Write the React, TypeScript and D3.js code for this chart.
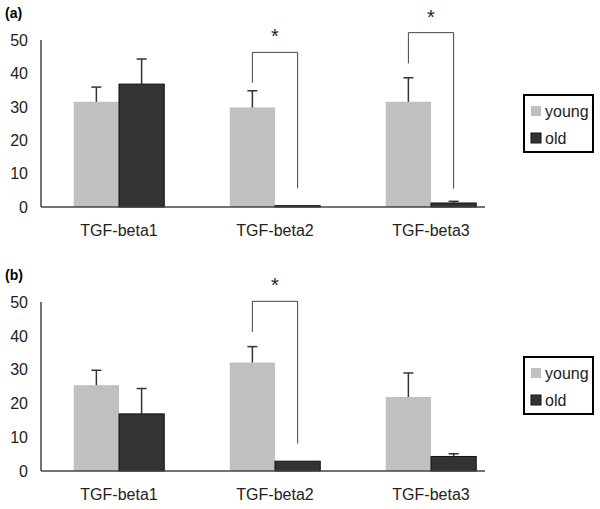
import * as d3 from "d3";

const categories = ["TGF-beta1", "TGF-beta2", "TGF-beta3"];
const series = ["young", "old"];
const yTicks = [0, 10, 20, 30, 40, 50];

// panel (a)
const youngA = [31.5, 29.8, 31.5];
const youngErrA = [4.4, 5.0, 7.2];
const oldA = [36.8, 0.4, 1.2];
const oldErrA = [7.5, 0, 0.5];
const sigA = [
  { category: "TGF-beta2", top: 46.3, left: 37.2, right: 5.6 },
  { category: "TGF-beta3", top: 52.2, left: 43.0, right: 5.5 },
];

// panel (b)
const youngB = [25.4, 32.1, 21.9];
const youngErrB = [4.4, 4.7, 7.1];
const oldB = [16.9, 2.9, 4.3];
const oldErrB = [7.5, 0, 0.8];
const sigB = [{ category: "TGF-beta2", top: 50.2, left: 41.1, right: 8.1 }];

const colors: Record<string, string> = { young: "#c0c0c0", old: "#333333" };
const font = "'Liberation Sans', Arial, sans-serif";

type Sig = { category: string; top: number; left: number; right: number };

function Panel({
  label,
  top,
  bottom,
  young,
  youngErr,
  old,
  oldErr,
  sig,
}: {
  label: string;
  top: number;
  bottom: number;
  young: number[];
  youngErr: number[];
  old: number[];
  oldErr: number[];
  sig: Sig[];
}) {
  const left = 41;
  const axisEnd = 485;
  const x = d3
    .scaleBand()
    .domain(categories)
    .range([left, left + 468])
    .paddingInner(0.42)
    .paddingOuter(0.21);
  const x1 = d3.scaleBand().domain(series).range([0, x.bandwidth()]);
  const y = d3.scaleLinear().domain([0, 50]).range([bottom, top]);

  const rows = categories.map((c, i) => ({
    category: c,
    values: [
      { key: "young", v: young[i], e: youngErr[i] },
      { key: "old", v: old[i], e: oldErr[i] },
    ],
  }));
  const cx = (c: string, s: string) =>
    (x(c) as number) + (x1(s) as number) + x1.bandwidth() / 2;

  return (
    <g>
      <text x={5} y={top - 22} fontFamily={font} fontWeight="bold" fontSize={14}>
        {label}
      </text>
      {yTicks.map((t) => (
        <text
          key={t}
          x={28}
          y={y(t)}
          dy="0.36em"
          textAnchor="end"
          fontFamily={font}
          fontSize={16}
          fill="#222"
        >
          {t}
        </text>
      ))}
      {rows.map((r) => (
        <g key={r.category}>
          {r.values.map((d) => (
            <g key={d.key}>
              <rect
                x={(x(r.category) as number) + (x1(d.key) as number)}
                y={y(d.v)}
                width={x1.bandwidth()}
                height={y(0) - y(d.v)}
                fill={colors[d.key]}
                stroke={d.key === "old" ? "#111" : "none"}
                strokeWidth={1}
              />
              {d.e > 0 && (
                <g stroke="#333" strokeWidth={1.5}>
                  <line
                    x1={cx(r.category, d.key)}
                    x2={cx(r.category, d.key)}
                    y1={y(d.v)}
                    y2={y(d.v + d.e)}
                  />
                  <line
                    x1={cx(r.category, d.key) - 5}
                    x2={cx(r.category, d.key) + 5}
                    y1={y(d.v + d.e)}
                    y2={y(d.v + d.e)}
                  />
                </g>
              )}
            </g>
          ))}
          <text
            x={(x(r.category) as number) + x.bandwidth() / 2}
            y={bottom + 29}
            textAnchor="middle"
            fontFamily={font}
            fontSize={16}
            fill="#222"
          >
            {r.category}
          </text>
        </g>
      ))}
      <line x1={left} x2={left} y1={top} y2={bottom} stroke="#444" strokeWidth={1.5} />
      <line x1={left} x2={axisEnd} y1={bottom} y2={bottom} stroke="#444" strokeWidth={1.5} />
      {sig.map((s) => {
        const xl = cx(s.category, "young");
        const xr = cx(s.category, "old");
        return (
          <g key={s.category}>
            <path
              d={`M${xl},${y(s.left)}V${y(s.top)}H${xr}V${y(s.right)}`}
              fill="none"
              stroke="#444"
              strokeWidth={1}
            />
            <text
              x={(xl + xr) / 2}
              y={y(s.top) - 9}
              textAnchor="middle"
              fontFamily={font}
              fontSize={20}
              fill="#222"
            >
              *
            </text>
          </g>
        );
      })}
      <g transform={`translate(524, ${top + 55})`}>
        <rect x={0} y={0} width={69} height={57} fill="#fff" stroke="#000" strokeWidth={2} />
        {series.map((s, i) => (
          <g key={s} transform={`translate(0, ${16 + i * 27})`}>
            <rect x={7} y={-5} width={10} height={10} fill={colors[s]} stroke={s === "old" ? "#111" : "none"} />
            <text x={21} y={0} dy="0.36em" fontFamily={font} fontSize={16} fill="#222">
              {s}
            </text>
          </g>
        ))}
      </g>
    </g>
  );
}

export default function App() {
  return (
    <svg
      width={600}
      height={509}
      style={{ position: "absolute", left: 0, top: 0, background: "#fff" }}
    >
      <Panel
        label="(a)"
        top={40}
        bottom={207}
        young={youngA}
        youngErr={youngErrA}
        old={oldA}
        oldErr={oldErrA}
        sig={sigA}
      />
      <Panel
        label="(b)"
        top={302}
        bottom={471}
        young={youngB}
        youngErr={youngErrB}
        old={oldB}
        oldErr={oldErrB}
        sig={sigB}
      />
    </svg>
  );
}
